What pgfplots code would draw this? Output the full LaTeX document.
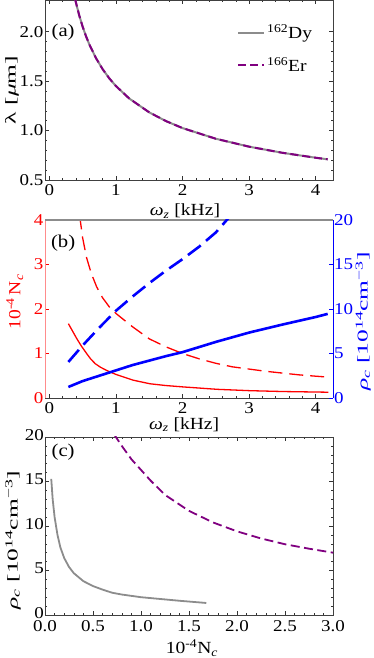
\documentclass[border=0pt]{standalone}
\usepackage{fontspec}
\setmainfont{Liberation Serif}[FakeStretch=1.15]
\newfontfamily\wideA{Liberation Serif}[FakeStretch=1.7]
\usepackage{pgfplots}
\pgfplotsset{compat=1.18}
\definecolor{mpurple}{RGB}{128,0,128}
\definecolor{mgray}{RGB}{140,140,140}
\definecolor{mred}{RGB}{255,0,0}
\definecolor{mblue}{RGB}{0,0,255}
\newcommand{\tfont}{\fontsize{16.5}{18}\selectfont}
\newcommand{\lfont}{\fontsize{17}{19}\selectfont}
\newcommand{\rfont}{\wideA\fontsize{15}{17}\selectfont}
\pgfplotsset{
 common/.style={
  scale only axis, width=288pt, anchor=south west,
  /pgf/number format/assume math mode=true,
  tick label style={font=\tfont},
  xticklabel style={inner sep=1pt, yshift=-3pt},
  yticklabel style={inner sep=1.5pt},
  label style={font=\lfont},
  major tick length=4pt, minor tick length=2.2pt,
  tick style={black!80, line width=0.5pt},
  axis line style={line width=0.6pt, black!75},
 },
}
\begin{document}
\begin{tikzpicture}
\path[use as bounding box] (0pt,0pt) rectangle (374pt,658pt);
% ---------------- (a)
\begin{axis}[common, at={(45pt,478pt)}, height=180pt,
 xmin=-0.065, xmax=4.26, ymin=0.5, ymax=2.32,
 xtick={0,1,2,3,4}, minor x tick num=4,
 ytick={0.5,1.0,1.5,2.0}, minor y tick num=4,
 yticklabel style={/pgf/number format/.cd, fixed, fixed zerofill, precision=1},
 xlabel={\textit{ω}\textsubscript{\textit{z}} [kHz]},
 ylabel={\rfont λ [\textit{μ}m]},
 xlabel style={at={(axis description cs:0.486,-0.172)}, anchor=center},
 ylabel style={at={(axis description cs:-0.115,0.5)}, anchor=center},
 legend style={draw=none, fill=none, at={(axis description cs:0.935,0.875)}, anchor=north east,
   font=\lfont, row sep=13pt, inner sep=0pt},
 legend cell align=left,
 legend image code/.code={\draw[#1] (0pt,0pt) -- (26pt,0pt);},
]
\addplot[mgray, line width=2pt] coordinates {
(0.35,2.451)(0.4,2.293)(0.45,2.162)(0.5,2.051)(0.55,1.955)(0.6,1.872)(0.7,1.733)(0.8,1.621)(0.9,1.528)(1.0,1.45)(1.2,1.324)(1.5,1.184)(1.75,1.096)(2.0,1.025)(2.5,0.917)(3.0,0.837)(3.5,0.775)(4.0,0.725)(4.18,0.709)};
\addlegendentry{\textsuperscript{162}Dy}
\addplot[mpurple, line width=2pt, dash pattern=on 8pt off 4pt] coordinates {
(0.35,2.451)(0.4,2.293)(0.45,2.162)(0.5,2.051)(0.55,1.955)(0.6,1.872)(0.7,1.733)(0.8,1.621)(0.9,1.528)(1.0,1.45)(1.2,1.324)(1.5,1.184)(1.75,1.096)(2.0,1.025)(2.5,0.917)(3.0,0.837)(3.5,0.775)(4.0,0.725)(4.18,0.709)};
\addlegendentry{\textsuperscript{166}Er}
\node[font=\fontsize{18}{20}\selectfont] at (axis description cs:0.063,0.82) {(a)};
\end{axis}
% ---------------- (b) left
\begin{axis}[common, at={(45pt,260pt)}, height=178pt,
 xmin=-0.065, xmax=4.26, ymin=0, ymax=4,
 axis x line*=bottom, axis y line*=left,
 x axis line style={-, black!75},
 y axis line style={-, red!45!white, line width=0.8pt},
 xtick={0,1,2,3,4}, minor x tick num=4,
 ytick={0,1,2,3,4},
 ytick style={mred},
 yticklabel style={mred},
 xlabel={\textit{ω}\textsubscript{\textit{z}} [kHz]},
 ylabel={10\textsuperscript{-4}\,N\textsubscript{\textit{c}}},
 xlabel style={at={(axis description cs:0.483,-0.15)}, anchor=center},
 ylabel style={at={(axis description cs:-0.105,0.54)}, anchor=center, mred},
]
\addplot[mred, line width=1.3pt] coordinates {
(0.286,1.67)(0.35,1.5)(0.41,1.34)(0.48,1.17)(0.56,1.0)(0.62,0.88)(0.69,0.77)(0.77,0.69)(0.86,0.62)(1.0,0.53)(1.26,0.40)(1.51,0.32)(1.75,0.28)(2.0,0.25)(2.52,0.195)(3.0,0.165)(3.52,0.145)(4.19,0.13)};
\addplot[mred, line width=1.3pt, dash pattern=on 14pt off 7pt] coordinates {
(0.455,4.1)(0.5,3.6)(0.56,3.15)(0.63,2.8)(0.71,2.5)(0.8,2.25)(0.91,2.03)(1.0,1.9)(1.25,1.6)(1.5,1.33)(1.75,1.15)(2.0,1.0)(2.25,0.88)(2.5,0.78)(2.75,0.7)(3.0,0.65)(3.25,0.6)(3.5,0.56)(3.75,0.52)(4.0,0.49)(4.18,0.47)};
\node[font=\fontsize{18}{20}\selectfont] at (axis description cs:0.063,0.87) {(b)};
\end{axis}
% ---------------- (b) right
\begin{axis}[common, at={(45pt,260pt)}, height=178pt,
 xmin=-0.065, xmax=4.26, ymin=0, ymax=20,
 axis x line*=top, axis y line*=right,
 x axis line style={-, mgray, line width=1.6pt},
 y axis line style={-, mblue, line width=0.8pt},
 xtick=\empty,
 ytick={0,5,10,15,20},
 ytick style={mblue},
 yticklabel style={mblue, inner sep=1pt},
 ylabel={\rfont \textit{ρ}\textsubscript{\textit{c}} [10\textsuperscript{14}cm\textsuperscript{−3}]},
 ylabel style={at={(axis description cs:1.105,0.43)}, anchor=center, mblue},
]
\addplot[mblue, line width=2.6pt] coordinates {
(0.286,1.24)(0.5,1.9)(0.75,2.5)(1.0,3.1)(1.25,3.7)(1.5,4.2)(1.75,4.7)(2.0,5.15)(2.5,6.3)(3.0,7.35)(3.5,8.25)(4.0,9.1)(4.18,9.45)};
\addplot[mblue, line width=2.6pt, dash pattern=on 16pt off 7pt] coordinates {
(0.286,4.05)(0.5,5.9)(0.75,7.9)(1.0,9.8)(1.25,11.4)(1.5,12.9)(1.75,14.3)(2.0,15.6)(2.25,17.0)(2.5,18.6)(2.7,20.3)};
\end{axis}
% ---------------- (c)
\begin{axis}[common, at={(45pt,43pt)}, height=178pt,
 xmin=0, xmax=3, ymin=0, ymax=20,
 xtick={0,0.5,1,1.5,2,2.5,3}, minor x tick num=4,
 ytick={0,5,10,15,20}, minor y tick num=4,
 xticklabel style={yshift=-2.5pt, inner sep=0pt, /pgf/number format/.cd, fixed, fixed zerofill, precision=1},
 yticklabel style={yshift=2pt, inner sep=1pt},
 xlabel={10\textsuperscript{-4}N\textsubscript{\textit{c}}},
 ylabel={\rfont \textit{ρ}\textsubscript{\textit{c}} [10\textsuperscript{14}cm\textsuperscript{−3}]},
 xlabel style={at={(axis description cs:0.51,-0.185)}, anchor=center},
 ylabel style={at={(axis description cs:-0.111,0.42)}, anchor=center},
]
\addplot[mgray, line width=1.8pt] coordinates {
(0.065,15.3)(0.08,13.0)(0.1,11.0)(0.13,9.0)(0.16,7.6)(0.2,6.4)(0.25,5.4)(0.3,4.7)(0.4,3.8)(0.5,3.25)(0.6,2.85)(0.7,2.5)(0.8,2.3)(1.0,2.0)(1.2,1.8)(1.4,1.6)(1.68,1.35)};
\addplot[mpurple, line width=1.8pt, dash pattern=on 9pt off 4.5pt] coordinates {
(0.72,20.3)(0.8,19.0)(0.9,17.5)(1.0,16.3)(1.1,15.1)(1.25,13.5)(1.5,11.7)(1.75,10.4)(2.0,9.4)(2.25,8.6)(2.5,7.95)(2.75,7.45)(3.0,7.0)};
\node[font=\fontsize{18}{20}\selectfont] at (axis description cs:0.063,0.916) {(c)};
\end{axis}
\end{tikzpicture}
\end{document}
